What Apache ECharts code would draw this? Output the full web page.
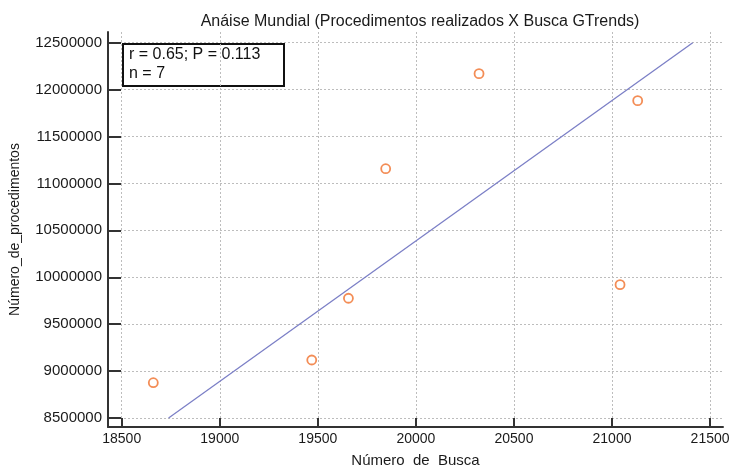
<!DOCTYPE html>
<html>
<head>
<meta charset="utf-8">
<script src="https://cdn.jsdelivr.net/npm/echarts@6/dist/echarts.min.js"></script>
<style>html,body{margin:0;padding:0;background:#fff;}#c{width:734px;height:468px;}</style>
</head>
<body>
<div id="c"></div>
<script>
// ---- data ----
const busca = [18661, 19469, 19656, 19846, 20322, 21041, 21131];
const procedimentos = [8876000, 9118000, 9776000, 11157000, 12170000, 9921000, 11882000];
const xTicks = [18500, 19000, 19500, 20000, 20500, 21000, 21500];
const yTicks = [8500000, 9000000, 9500000, 10000000, 10500000, 11000000, 11500000, 12000000, 12500000];
const statLines = ['r = 0.65; P = 0.113', 'n = 7'];
const titleText = 'Anáise Mundial (Procedimentos realizados X Busca GTrends)';
const xName = 'Número  de  Busca';
const yName = 'Número_de_procedimentos';

// ---- reduced major axis fit computed from the data ----
const n = busca.length;
const mx = busca.reduce((a, b) => a + b, 0) / n;
const my = procedimentos.reduce((a, b) => a + b, 0) / n;
let sxx = 0, syy = 0, sxy = 0;
for (let i = 0; i < n; i++) {
  const dx = busca[i] - mx, dy = procedimentos[i] - my;
  sxx += dx * dx; syy += dy * dy; sxy += dx * dy;
}
const slope = Math.sign(sxy) * Math.sqrt(syy / sxx);
const intercept = my - slope * mx;
const yLo = yTicks[0], yHi = yTicks[yTicks.length - 1];
const fitLine = [[(yLo - intercept) / slope, yLo], [(yHi - intercept) / slope, yHi]];

const points = busca.map((x, i) => [x, procedimentos[i]]);
const FONT = "'Liberation Sans', Arial, sans-serif";

const chart = echarts.init(document.getElementById('c'), null, {renderer: 'canvas'});
chart.setOption({
  animation: false,
  backgroundColor: '#fff',
  title: {
    text: titleText,
    left: 415, top: 9, textAlign: 'center',
    textStyle: {fontFamily: FONT, fontSize: 16, fontWeight: 'normal', color: '#1a1a1a'}
  },
  grid: {left: 108, right: 11, top: 32, bottom: 41, containLabel: false, outerBoundsMode: 'none'},
  xAxis: {
    type: 'value', min: 18430, max: 21566,
    name: xName, nameLocation: 'middle', nameGap: 26,
    nameTextStyle: {fontFamily: FONT, fontSize: 15, color: '#1a1a1a'},
    axisLine: {show: true, onZero: false, lineStyle: {color: '#333', width: 2}},
    axisTick: {show: true, inside: true, length: 9, customValues: xTicks, lineStyle: {color: '#333', width: 2}},
    axisLabel: {customValues: xTicks, margin: 5, fontFamily: FONT, fontSize: 14, color: '#1a1a1a',
                formatter: v => String(v)},
    splitLine: {show: true, lineStyle: {color: '#bdbdbd', type: [2, 2], width: 1}}
  },
  yAxis: {
    type: 'value', min: 8404000, max: 12614000,
    name: yName, nameLocation: 'middle', nameGap: 86,
    nameTextStyle: {fontFamily: FONT, fontSize: 14, color: '#1a1a1a'},
    axisLine: {show: true, onZero: false, lineStyle: {color: '#333', width: 2}},
    axisTick: {show: true, inside: true, length: 13, customValues: yTicks, lineStyle: {color: '#333', width: 2}},
    axisLabel: {customValues: yTicks, margin: 6, fontFamily: FONT, fontSize: 15, color: '#1a1a1a',
                formatter: v => String(v)},
    splitLine: {show: true, lineStyle: {color: '#bdbdbd', type: [2, 2], width: 1}}
  },
  series: [
    {
      type: 'line', data: fitLine, showSymbol: false, silent: true,
      lineStyle: {color: '#7b7fc6', width: 1.3}, z: 2
    },
    {
      type: 'scatter', data: points, symbol: 'circle', symbolSize: 9,
      itemStyle: {color: '#ffffff', borderColor: '#f0702c', borderWidth: 1.8}, z: 3
    }
  ],
  graphic: [
    {
      type: 'group', left: 122, top: 43, z: 100,
      children: [
        {type: 'rect', shape: {x: 0, y: 0, width: 161, height: 42},
         style: {fill: '#fff', stroke: '#111', lineWidth: 2}},
        {type: 'text', x: 6, y: 3, style: {text: statLines[0], fontFamily: FONT, fontSize: 16, fill: '#111'}},
        {type: 'text', x: 6, y: 22, style: {text: statLines[1], fontFamily: FONT, fontSize: 16, fill: '#111'}}
      ]
    }
  ]
});
</script>
</body>
</html>
